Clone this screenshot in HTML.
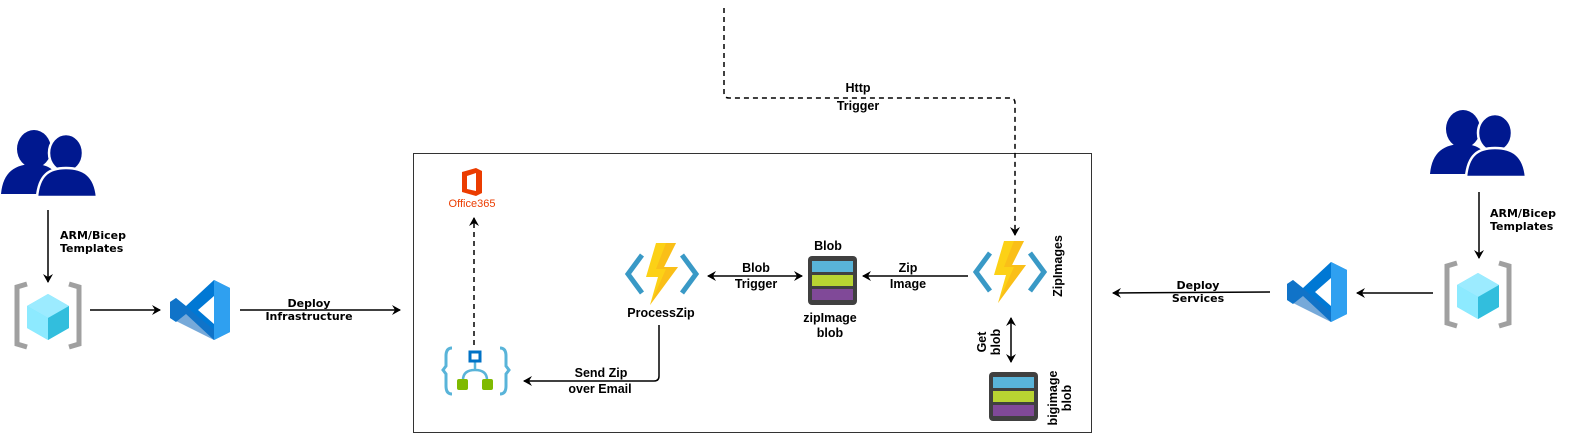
<!DOCTYPE html>
<html><head><meta charset="utf-8"><style>
html,body{margin:0;padding:0;background:#fff;}
svg{display:block;}
.l{font-family:"Liberation Sans",Arial,sans-serif;font-weight:bold;font-size:12.5px;fill:#000;text-anchor:middle;}
.d{font-family:"DejaVu Sans",sans-serif;font-weight:bold;font-size:11px;fill:#000;}
</style></head><body>
<svg width="1572" height="435" viewBox="0 0 1572 435" xmlns="http://www.w3.org/2000/svg">
<defs>
<marker id="a" markerWidth="10" markerHeight="10" refX="8" refY="5" orient="auto" markerUnits="userSpaceOnUse"><path d="M0,0 L9,5 L0,10 L3,5 Z" fill="#000"/></marker>
<marker id="as" markerWidth="10" markerHeight="10" refX="1" refY="5" orient="auto" markerUnits="userSpaceOnUse"><path d="M9,0 L0,5 L9,10 L6,5 Z" fill="#000"/></marker>
<g id="users">
<ellipse cx="33" cy="19" rx="17" ry="19" fill="#00188f"/>
<path d="M0,64 C2,42 14,34 33,34 C46,34 55,40 58,50 L58,64 Z" fill="#00188f"/>
<ellipse cx="65" cy="23" rx="17" ry="19" fill="#00188f" stroke="#fff" stroke-width="2.5"/>
<path d="M36,67 C38,45 48,38 65,38 C82,38 94,45 96,67 Z" fill="#00188f" stroke="#fff" stroke-width="2.5"/>
</g>
<g id="bicep">
<path d="M12,0 L2,3 L2,60 L12,63" fill="none" stroke="#a0a0a0" stroke-width="5"/>
<path d="M54,0 L64,3 L64,60 L54,63" fill="none" stroke="#a0a0a0" stroke-width="5"/>
<path d="M33,10 L54,22 L54,44 L33,56 L12,44 L12,22 Z" fill="#50e6ff"/>
<path d="M33,10 L54,22 L33,34 L12,22 Z" fill="#9cebff"/>
<path d="M33,34 L54,22 L54,44 L33,56 Z" fill="#32bedd"/>
<path d="M12,22 L33,34 L33,56 L12,44 Z" fill="#9cebff" opacity=".8"/>
</g>
<g id="vsc">
<path d="M46,0 L62,8 L62,52 L46,60 L18,34 L8,42 L2,38 L2,22 L8,18 L18,26 Z M46,16 L30,30 L46,44 Z" fill="#0078d4"/>
<path d="M46,0 L62,8 L62,52 L46,60 Z" fill="#2fa0f0"/>
<path d="M2,22 L8,18 L46,50 L46,60 L2,38 Z" fill="#1a6fbf" opacity=".6"/>
</g>
<g id="func">
<path d="M16,12 L2,31 L16,50" fill="none" stroke="#3999c6" stroke-width="5"/>
<path d="M56,12 L70,31 L56,50" fill="none" stroke="#3999c6" stroke-width="5"/>
<path d="M30,0 L50,0 L38,24 L52,24 L24,62 L32,34 L20,34 Z" fill="#fcd116"/>
<path d="M40,0 L50,0 L38,24 L52,24 L24,62 L40,26 L30,26 Z" fill="#f9b21b" opacity=".6"/>
</g>
<g id="blob">
<rect x="0" y="0" width="49" height="49" rx="4" fill="#404040"/>
<rect x="4" y="5" width="41" height="11" fill="#59b4d9"/>
<rect x="4" y="19" width="41" height="11" fill="#b8d432"/>
<rect x="4" y="33" width="41" height="11" fill="#804998"/>
</g>
</defs>

<rect x="413.5" y="153.5" width="678" height="279" fill="none" stroke="#333" stroke-width="1"/>

<!-- left -->
<use href="#users" x="1" y="130"/>
<line x1="48" y1="210" x2="48" y2="282" stroke="#000" stroke-width="1.5" marker-end="url(#a)"/>
<text class="d" x="60" y="239">ARM/Bicep</text>
<text class="d" x="60" y="252">Templates</text>
<use href="#bicep" x="15" y="284"/>
<line x1="90" y1="310" x2="160" y2="310" stroke="#000" stroke-width="1.5" marker-end="url(#a)"/>
<use href="#vsc" x="168" y="280"/>
<line x1="240" y1="310" x2="400" y2="310" stroke="#000" stroke-width="1.5" marker-end="url(#a)"/>
<text class="d" x="309" y="307" text-anchor="middle">Deploy</text>
<text class="d" x="309" y="320" text-anchor="middle">Infrastructure</text>

<!-- office -->
<path d="M462,172 L476,168 L482,171 L482,193 L476,196 L462,192 Z M467,176 L467,189 L476,191 L476,173 Z" fill="#eb3c00"/>
<text x="472" y="207" font-family="Liberation Sans,sans-serif" font-size="11" fill="#eb3c00" text-anchor="middle">Office365</text>
<line x1="474" y1="345" x2="474" y2="218" stroke="#000" stroke-width="1.5" stroke-dasharray="5,4" marker-end="url(#a)"/>

<!-- logic app -->
<path d="M452,348 Q446,348 446,356 L446,366 L443,370 L446,374 L446,386 Q446,394 452,394" fill="none" stroke="#59b4d9" stroke-width="3"/>
<path d="M500,348 Q506,348 506,356 L506,366 L509,370 L506,374 L506,386 Q506,394 500,394" fill="none" stroke="#59b4d9" stroke-width="3"/>
<path d="M475,361 L475,370 M463,380 Q463,370 475,370 Q487,370 487,380" fill="none" stroke="#59b4d9" stroke-width="2.5"/>
<rect x="470" y="352" width="10" height="9" fill="#fff" stroke="#0072c6" stroke-width="3"/>
<rect x="457" y="379" width="11" height="11" rx="2" fill="#7fba00"/>
<rect x="482" y="379" width="11" height="11" rx="2" fill="#7fba00"/>

<!-- ProcessZip -->
<use href="#func" x="626" y="243"/>
<text class="l" x="661" y="317">ProcessZip</text>
<path d="M659,325 L659,376 Q659,381 654,381 L524,381" fill="none" stroke="#000" stroke-width="1.5" marker-end="url(#a)"/>
<text class="l" x="601" y="377">Send Zip</text>
<text class="l" x="600" y="393">over Email</text>

<line x1="708" y1="276" x2="802" y2="276" stroke="#000" stroke-width="1.5" marker-start="url(#as)" marker-end="url(#a)"/>
<text class="l" x="756" y="272">Blob</text>
<text class="l" x="756" y="288">Trigger</text>

<use href="#blob" x="808" y="256"/>
<text class="l" x="828" y="250">Blob</text>
<text class="l" x="830" y="322">zipImage</text>
<text class="l" x="830" y="337">blob</text>

<line x1="968" y1="276" x2="863" y2="276" stroke="#000" stroke-width="1.5" marker-end="url(#a)"/>
<text class="l" x="908" y="272">Zip</text>
<text class="l" x="908" y="288">Image</text>

<use href="#func" x="974" y="241"/>
<text class="l" transform="translate(1062,266) rotate(-90)">ZipImages</text>

<path d="M724,8 L724,93 Q724,98 729,98 L1010,98 Q1015,98 1015,103 L1015,235" fill="none" stroke="#000" stroke-width="1.5" stroke-dasharray="5,4" marker-end="url(#a)"/>
<text class="l" x="858" y="92">Http</text>
<text class="l" x="858" y="110">Trigger</text>

<line x1="1011" y1="318" x2="1011" y2="362" stroke="#000" stroke-width="1.5" marker-start="url(#as)" marker-end="url(#a)"/>
<text class="l" transform="translate(986,342) rotate(-90)">Get</text>
<text class="l" transform="translate(1000,342) rotate(-90)">blob</text>

<use href="#blob" x="989" y="372"/>
<text class="l" transform="translate(1057,398) rotate(-90)">bigimage</text>
<text class="l" transform="translate(1071,398) rotate(-90)">blob</text>

<!-- right -->
<use href="#users" x="1430" y="110"/>
<line x1="1479" y1="192" x2="1479" y2="258" stroke="#000" stroke-width="1.5" marker-end="url(#a)"/>
<text class="d" x="1490" y="217">ARM/Bicep</text>
<text class="d" x="1490" y="230">Templates</text>
<use href="#bicep" x="1445" y="263"/>
<line x1="1433" y1="293" x2="1357" y2="293" stroke="#000" stroke-width="1.5" marker-end="url(#a)"/>
<use href="#vsc" x="1285" y="262"/>
<line x1="1270" y1="292" x2="1113" y2="293" stroke="#000" stroke-width="1.5" marker-end="url(#a)"/>
<text class="d" x="1198" y="289" text-anchor="middle">Deploy</text>
<text class="d" x="1198" y="302" text-anchor="middle">Services</text>
</svg>
</body></html>
